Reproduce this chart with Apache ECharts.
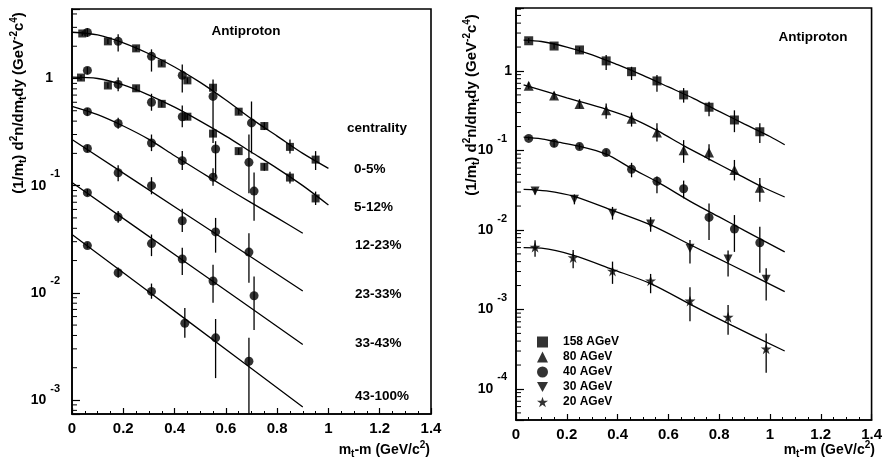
<!DOCTYPE html>
<html>
<head>
<meta charset="utf-8">
<script src="https://cdn.jsdelivr.net/npm/echarts@6/dist/echarts.min.js"></script>
<style>
html, body { margin: 0; padding: 0; background: #fff; }
#main { width: 885px; height: 460px; }
</style>
</head>
<body>
<div id="main"></div>
<script>
var FONT = '"Liberation Sans", Arial, Helvetica, sans-serif';

// ---- left panel: centrality classes ----
var centralityLabels = ['0-5%', '5-12%', '12-23%', '23-33%', '33-43%', '43-100%'];

// circles (all classes)
var cenCircX = [
    [0.06, 0.18, 0.31, 0.43, 0.55, 0.70],
    [0.06, 0.18, 0.31, 0.43, 0.56, 0.69],
    [0.06, 0.18, 0.31, 0.43, 0.55, 0.71],
    [0.06, 0.18, 0.31, 0.43, 0.56, 0.69],
    [0.06, 0.18, 0.31, 0.43, 0.55, 0.71],
    [0.06, 0.18, 0.31, 0.44, 0.56, 0.69]
];
var cenCircY = [
    [2.69, 2.22, 1.61, 1.07, 0.68, 0.385],
    [1.19, 0.88, 0.60, 0.44, 0.22, 0.165],
    [0.49, 0.38, 0.25, 0.171, 0.12, 0.089],
    [0.222, 0.132, 0.100, 0.047, 0.037, 0.024],
    [0.086, 0.051, 0.0288, 0.0207, 0.0129, 0.0094],
    [0.0276, 0.0154, 0.0103, 0.0052, 0.0038, 0.0023]
];
var cenCircLo = [
    [2.45, 1.79, 1.16, 0.74, 0.25, 0.20],
    [1.10, 0.76, 0.50, 0.35, 0.12, 0.085],
    [0.45, 0.34, 0.21, 0.14, 0.10, 0.047],
    [0.205, 0.11, 0.083, 0.037, 0.0237, 0.0124],
    [0.080, 0.045, 0.022, 0.0147, 0.0081, 0.0045],
    [0.026, 0.0138, 0.0088, 0.0038, 0.0016, 0.00065]
];
var cenCircHi = [
    [2.95, 2.58, 1.87, 1.35, 0.98, 0.61],
    [1.28, 1.02, 0.72, 0.56, 0.26, 0.30],
    [0.53, 0.43, 0.30, 0.21, 0.145, 0.133],
    [0.24, 0.155, 0.12, 0.061, 0.05, 0.036],
    [0.093, 0.058, 0.035, 0.0263, 0.0183, 0.0142],
    [0.0295, 0.0172, 0.0122, 0.0072, 0.0057, 0.0038]
];
// squares (two most central classes only)
var cenSqX = [
    [0.04, 0.14, 0.25, 0.35, 0.45, 0.55, 0.65, 0.75, 0.85, 0.95],
    [0.035, 0.14, 0.25, 0.35, 0.45, 0.55, 0.65, 0.75, 0.85, 0.95]
];
var cenSqY = [
    [2.63, 2.22, 1.91, 1.38, 0.96, 0.82, 0.49, 0.36, 0.23, 0.175],
    [1.02, 0.86, 0.81, 0.58, 0.44, 0.306, 0.21, 0.15, 0.119, 0.076]
];
var cenSqLo = [
    [2.5, 2.1, 1.8, 1.3, 0.9, 0.76, 0.46, 0.33, 0.2, 0.14],
    [0.96, 0.81, 0.76, 0.54, 0.41, 0.285, 0.195, 0.138, 0.105, 0.066]
];
var cenSqHi = [
    [2.76, 2.34, 2.02, 1.46, 1.02, 0.88, 0.52, 0.39, 0.27, 0.21],
    [1.08, 0.91, 0.86, 0.62, 0.47, 0.33, 0.225, 0.162, 0.135, 0.088]
];
// fitted curves
var cenFitX = [
    [0, 0.1, 0.2, 0.3, 0.4, 0.5, 0.6, 0.7, 0.8, 0.9, 1.0],
    [0, 0.1, 0.2, 0.3, 0.4, 0.5, 0.6, 0.7, 0.8, 0.9, 1.0],
    [0, 0.1, 0.2, 0.3, 0.4, 0.5, 0.6, 0.7, 0.8, 0.9],
    [0, 0.45, 0.9],
    [0, 0.45, 0.9],
    [0, 0.45, 0.9]
];
var cenFitY = [
    [2.7, 2.55, 2.15, 1.7, 1.28, 0.92, 0.63, 0.42, 0.29, 0.2, 0.145],
    [1.03, 1.0, 0.87, 0.7, 0.54, 0.4, 0.29, 0.205, 0.145, 0.1, 0.066],
    [0.55, 0.46, 0.36, 0.27, 0.19, 0.135, 0.096, 0.069, 0.05, 0.036],
    [0.27, 0.053, 0.0104],
    [0.107, 0.0188, 0.0033],
    [0.035, 0.0055, 0.00086]
];

// ---- right panel: beam energies ----
var energies = ['158 AGeV', '80 AGeV', '40 AGeV', '30 AGeV', '20 AGeV'];
var eX = [
    [0.05, 0.15, 0.25, 0.355, 0.455, 0.555, 0.66, 0.76, 0.86, 0.96],
    [0.05, 0.15, 0.25, 0.355, 0.455, 0.555, 0.66, 0.76, 0.86, 0.96],
    [0.05, 0.15, 0.25, 0.355, 0.455, 0.555, 0.66, 0.76, 0.86, 0.96],
    [0.075, 0.23, 0.38, 0.53, 0.685, 0.835, 0.985],
    [0.075, 0.225, 0.38, 0.53, 0.685, 0.835, 0.985]
];
var eY = [
    [2.4, 2.06, 1.84, 1.34, 0.98, 0.75, 0.5, 0.35, 0.242, 0.172],
    [0.65, 0.49, 0.385, 0.32, 0.25, 0.168, 0.101, 0.094, 0.057, 0.034],
    [0.142, 0.123, 0.112, 0.094, 0.058, 0.041, 0.033, 0.0144, 0.0103, 0.0069],
    [0.031, 0.0243, 0.0162, 0.0119, 0.0059, 0.0043, 0.0024],
    [0.0061, 0.0045, 0.00305, 0.0023, 0.00128, 0.0008, 0.00032]
];
var eLo = [
    [2.25, 1.9, 1.7, 1.03, 0.77, 0.55, 0.4, 0.27, 0.17, 0.124],
    [0.6, 0.44, 0.34, 0.25, 0.2, 0.13, 0.07, 0.075, 0.042, 0.0226],
    [0.135, 0.11, 0.103, 0.085, 0.046, 0.029, 0.025, 0.0075, 0.0053, 0.0029],
    [0.028, 0.021, 0.0135, 0.0095, 0.0038, 0.0026, 0.0013],
    [0.0046, 0.0033, 0.0021, 0.0016, 0.00071, 0.00048, 0.00016]
];
var eHi = [
    [2.6, 2.25, 2.0, 1.59, 1.13, 0.89, 0.61, 0.41, 0.32, 0.22],
    [0.72, 0.55, 0.44, 0.39, 0.3, 0.22, 0.135, 0.12, 0.076, 0.045],
    [0.15, 0.135, 0.122, 0.103, 0.07, 0.047, 0.0418, 0.0216, 0.0154, 0.011],
    [0.034, 0.028, 0.0195, 0.0145, 0.0075, 0.0055, 0.0033],
    [0.0074, 0.0056, 0.004, 0.0028, 0.0019, 0.00114, 0.0005]
];
var eFitX = [
    [0.03, 0.1, 0.2, 0.3, 0.4, 0.5, 0.6, 0.7, 0.8, 0.9, 1.0, 1.058],
    [0.03, 0.2, 0.356, 0.455, 0.56, 0.66, 0.76, 0.86, 0.96, 1.058],
    [0.03, 0.1, 0.15, 0.255, 0.355, 0.455, 0.555, 0.7, 0.8, 0.9, 1.058],
    [0.03, 0.12, 0.231, 0.382, 0.532, 0.7, 0.85, 1.058],
    [0.03, 0.1, 0.227, 0.379, 0.532, 0.7, 0.85, 1.058]
];
var eFitY = [
    [2.45, 2.35, 2.0, 1.6, 1.2, 0.88, 0.63, 0.45, 0.31, 0.215, 0.15, 0.118],
    [0.67, 0.46, 0.33, 0.255, 0.175, 0.115, 0.078, 0.053, 0.036, 0.026],
    [0.147, 0.14, 0.13, 0.112, 0.09, 0.0595, 0.0405, 0.0216, 0.0146, 0.0098, 0.0053],
    [0.0325, 0.031, 0.0263, 0.0175, 0.0115, 0.0062, 0.0036, 0.00168],
    [0.006, 0.0059, 0.0048, 0.0032, 0.0021, 0.0011, 0.00063, 0.0003]
];

// axis ticks
var xTicks = [0, 0.2, 0.4, 0.6, 0.8, 1, 1.2, 1.4];
var minorMantissa = [2, 3, 4, 5, 6, 7, 8, 9];
var leftDecades = [-4, -3, -2, -1, 0];
var rightDecades = [-5, -4, -3, -2, -1, 0];

var downTri = 'path://M0,0 L10,0 L5,9 Z';
var star = 'path://M5,0 L6.2,3.6 L10,3.6 L6.9,5.8 L8.1,9.5 L5,7.2 L1.9,9.5 L3.1,5.8 L0,3.6 L3.8,3.6 Z';
var energySymbols = ['rect', 'triangle', 'circle', downTri, star];
var energySizes = [9, 10, 9, 9, 11];

var myChart = echarts.init(document.getElementById('main'));

function zip2(a, b) { return a.map(function (v, i) { return [v, b[i]]; }); }
function zip3(a, b, c) { return a.map(function (v, i) { return [v, b[i], c[i]]; }); }

function errRender(params, api) {
    var a = api.coord([api.value(0), api.value(1)]);
    var b = api.coord([api.value(0), api.value(2)]);
    return {
        type: 'line',
        shape: { x1: a[0], y1: a[1], x2: b[0], y2: b[1] },
        style: { stroke: '#000', lineWidth: 1.3 }
    };
}
function minorRender(params, api) {
    var p = api.coord([api.value(0), api.value(1)]);
    return {
        type: 'line',
        shape: { x1: p[0], y1: p[1], x2: p[0] + 5, y2: p[1] },
        style: { stroke: '#000', lineWidth: 1 }
    };
}
function minorData(decades) {
    var out = [];
    decades.forEach(function (d) {
        minorMantissa.forEach(function (m) { out.push([0, m * Math.pow(10, d)]); });
    });
    return out;
}

function powLabel(v) {
    var l = Math.log10(v);
    var k = Math.round(l);
    if (Math.abs(l - k) > 0.01) return '';
    if (k === 0) return '{o|1}';
    return '{b|10}{s|' + k + '}';
}
function yRich(onePad, supPad) {
    return {
        o: { fontSize: 14, fontWeight: 'bold', fontFamily: FONT, color: '#000', padding: [0, onePad, 0, 0] },
        b: { fontSize: 14, fontWeight: 'bold', fontFamily: FONT, color: '#000', lineHeight: 14 },
        s: { fontSize: 11, fontWeight: 'bold', fontFamily: FONT, color: '#000', lineHeight: 34,
             verticalAlign: 'top', padding: [0, supPad, 0, 4] }
    };
}

var series = [];
var L = { xAxisIndex: 0, yAxisIndex: 0 };
var R = { xAxisIndex: 1, yAxisIndex: 1 };

function addTo(panel, s) {
    s.xAxisIndex = panel.xAxisIndex;
    s.yAxisIndex = panel.yAxisIndex;
    series.push(s);
}

// left panel series
centralityLabels.forEach(function (c, i) {
    addTo(L, {
        name: c + ' fit', type: 'line', data: zip2(cenFitX[i], cenFitY[i]),
        showSymbol: false, smooth: 0.3, silent: true,
        lineStyle: { color: '#000', width: 1.3 }, z: 2
    });
    addTo(L, {
        name: c + ' err', type: 'custom', renderItem: errRender, clip: true,
        data: zip3(cenCircX[i], cenCircLo[i], cenCircHi[i]),
        encode: { x: 0, y: [1, 2] }, z: 3
    });
    addTo(L, {
        name: c, type: 'scatter', symbol: 'circle', symbolSize: 9,
        data: zip2(cenCircX[i], cenCircY[i]),
        itemStyle: { color: '#000' }, z: 4
    });
});
cenSqX.forEach(function (xs, i) {
    addTo(L, {
        name: centralityLabels[i] + ' sq err', type: 'custom', renderItem: errRender, clip: true,
        data: zip3(xs, cenSqLo[i], cenSqHi[i]),
        encode: { x: 0, y: [1, 2] }, z: 3
    });
    addTo(L, {
        name: centralityLabels[i] + ' sq', type: 'scatter', symbol: 'rect', symbolSize: 8,
        data: zip2(xs, cenSqY[i]),
        itemStyle: { color: '#000' }, z: 4
    });
});
addTo(L, {
    name: 'minorL', type: 'custom', renderItem: minorRender, clip: true,
    data: minorData(leftDecades), encode: { x: 0, y: 1 }, silent: true, z: 5
});

// right panel series
energies.forEach(function (e, i) {
    addTo(R, {
        name: e + ' fit', type: 'line', data: zip2(eFitX[i], eFitY[i]),
        showSymbol: false, smooth: 0.3, silent: true,
        lineStyle: { color: '#000', width: 1.3 }, z: 2
    });
    addTo(R, {
        name: e + ' err', type: 'custom', renderItem: errRender, clip: true,
        data: zip3(eX[i], eLo[i], eHi[i]),
        encode: { x: 0, y: [1, 2] }, z: 3
    });
    addTo(R, {
        name: e, type: 'scatter', symbol: energySymbols[i], symbolSize: energySizes[i],
        data: zip2(eX[i], eY[i]),
        itemStyle: { color: '#000' }, z: 4
    });
});
addTo(R, {
    name: 'minorR', type: 'custom', renderItem: minorRender, clip: true,
    data: minorData(rightDecades), encode: { x: 0, y: 1 }, silent: true, z: 5
});

function xAxisCfg(gi) {
    return {
        type: 'value', gridIndex: gi, min: xTicks[0], max: xTicks[xTicks.length - 1], interval: 0.2,
        axisLine: { show: true, lineStyle: { color: '#000', width: 1.6 } },
        axisTick: { show: true, inside: true, length: 6, lineStyle: { color: '#000', width: 1.2 } },
        minorTick: { show: true, splitNumber: 4, length: 3, lineStyle: { color: '#000', width: 1 } },
        splitLine: { show: false },
        axisLabel: { color: '#000', fontSize: 15, fontWeight: 'bold', fontFamily: FONT, margin: 7 }
    };
}
function yAxisCfg(gi, mn, mx, onePad, supPad) {
    return {
        type: 'log', logBase: 10, gridIndex: gi, min: mn, max: mx,
        axisLine: { show: true, lineStyle: { color: '#000', width: 1.6 } },
        axisTick: { show: true, inside: true, length: 8, lineStyle: { color: '#000', width: 1.2 } },
        splitLine: { show: false },
        minorTick: { show: false },
        axisLabel: { formatter: powLabel, margin: 0, rich: yRich(onePad, supPad) }
    };
}

var bold = { fontWeight: 'bold', fontFamily: FONT, fill: '#000' };
function txt(x, y, s, size, align) {
    return { type: 'text', x: x, y: y, silent: true,
        style: Object.assign({ text: s, fontSize: size, align: align || 'left', verticalAlign: 'middle' }, bold) };
}
var titleRich = {
    sub: { fontSize: 10, fontWeight: 'bold', fontFamily: FONT, fill: '#000', lineHeight: 10, verticalAlign: 'top', padding: [9, 0, 0, 0] },
    sup: { fontSize: 10, fontWeight: 'bold', fontFamily: FONT, fill: '#000', lineHeight: 10, verticalAlign: 'top', padding: [0, 0, 9, 0] }
};
function richTxt(x, y, s, size, align, rot) {
    return { type: 'text', x: x, y: y, rotation: rot || 0, silent: true,
        style: Object.assign({ text: s, fontSize: size, lineHeight: 19, align: align, verticalAlign: 'middle', rich: titleRich }, bold) };
}
var yTitle = '(1/m{sub|t}) d{sup|2}n/dm{sub|t}dy (GeV{sup|-2}c{sup|4})';
var xTitle = 'm{sub|t}-m (GeV/c{sup|2})';

var graphics = [
    txt(246, 31, 'Antiproton', 13.5, 'center'),
    txt(813, 37, 'Antiproton', 13.5, 'center'),
    txt(347, 128, 'centrality', 13.5),
    richTxt(19, 103, yTitle, 15, 'center', Math.PI / 2),
    richTxt(472, 105, yTitle, 15, 'center', Math.PI / 2),
    richTxt(430, 450, xTitle, 14, 'right'),
    richTxt(875, 450, xTitle, 14, 'right')
];
var centralityY = [169, 207, 245, 294, 343, 396];
centralityLabels.forEach(function (c, i) {
    graphics.push(txt(i < 2 ? 354 : 355, centralityY[i], c, 13.5));
});

var option = {
    backgroundColor: '#fff',
    animation: false,
    color: ['#000'],
    grid: [
        { left: 72, top: 9, width: 359, height: 405, show: true, borderColor: '#000', borderWidth: 1.6, backgroundColor: 'transparent' },
        { left: 516, top: 8, width: 358, height: 412, show: true, borderColor: '#000', borderWidth: 1.6, backgroundColor: 'transparent' }
    ],
    xAxis: [xAxisCfg(0), xAxisCfg(1)],
    yAxis: [
        yAxisCfg(0, 7.4e-4, 4.45, 19, 12),
        yAxisCfg(1, 4.07e-5, 6.2, 4, 9)
    ],
    legend: {
        orient: 'vertical', left: 532, top: 331, itemWidth: 11, itemHeight: 11, itemGap: 3,
        selectedMode: false,
        data: energies.map(function (e, i) { return { name: e, icon: energySymbols[i] }; }),
        formatter: function (n) { return '   ' + n; },
        textStyle: { color: '#000', fontSize: 12, fontWeight: 'bold', fontFamily: FONT }
    },
    graphic: graphics,
    series: series
};
myChart.setOption(option);
</script>
</body>
</html>
